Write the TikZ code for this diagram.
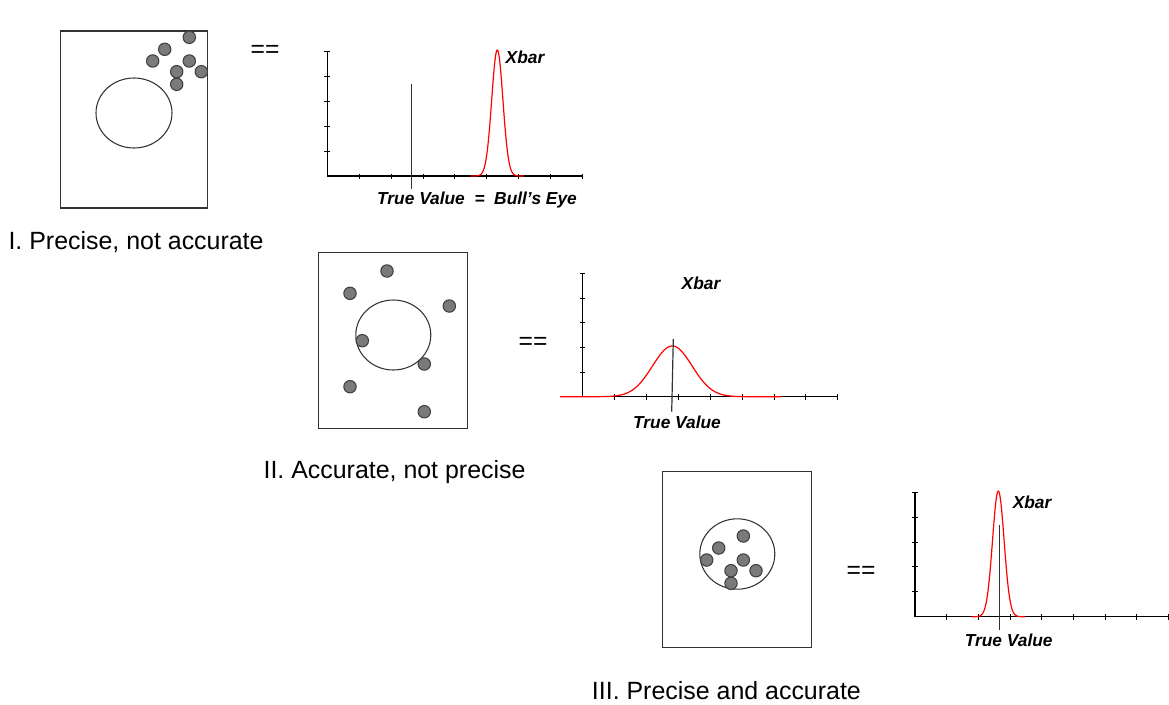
\documentclass[tikz,border=0pt]{standalone}
\usepackage{fontspec}
\setmainfont{Liberation Sans}

\begin{document}
\begin{tikzpicture}[
  x=0.75pt, y=-0.75pt,
  target/.style={draw=black!80, line width=0.9pt},
  ring/.style={draw=black!80, line width=0.8pt},
  shot/.style={draw=black!75, fill=black!52, line width=0.8pt},
  axis/.style={black, line width=1pt},
  tick/.style={black, line width=0.7pt},
  gauss/.style={red, line width=0.9pt},
  truth/.style={black!80, line width=0.9pt},
  caption/.style={font=\fontsize{18.7}{22}\selectfont, anchor=base west, inner sep=0pt},
  equal/.style={font=\fontsize{18.5}{21}\selectfont, inner sep=0pt},
  lbl/.style={font=\fontsize{13}{15}\selectfont\bfseries\itshape, inner sep=0pt}
]
\useasboundingbox (0,0) rectangle (1169,704);

% Target I: shots grouped, away from the bull's eye
\draw[target] (60.5,31) rectangle (207.5,208);
\draw[ring] (134,113) ellipse [x radius=38, y radius=35];
\foreach \p in {(189.3,37.3),(164.7,49.3),(152.7,61),(189.3,61),(176.7,71.7),(201.3,71.7),(176.7,84.3)}
  \filldraw[shot] \p circle (6.2);
\node[equal] (eqA) at (265,51) {==};
\node[caption] (capA) at (8.3,249.3) {I. Precise, not accurate};

% Chart I
\begin{scope}[shift={(327.3,176)}]
  \draw[axis] (0,-124.3) -- (0,0) -- (255.4,0);
  \foreach \i in {1,...,8} \draw[tick] (\i*31.9,-2.5) -- (\i*31.9,3);
  \foreach \i in {1,...,5} \draw[tick] (-3,-\i*24.86) -- (2.5,-\i*24.86);
  \draw[gauss] plot[domain=143.4:196.7, samples=120, smooth] (\x,{-126*exp(-((\x-170)^2)/(2*5.6^2))});
  \draw[truth] (84.4,-91.7) -- (84.4,13.3);
\end{scope}
\node[lbl] (xbarA) at (525,57) {Xbar};
\node[lbl] (trueA) at (477,200) {True Value~~=~~Bull{\char"27}s Eye};

% Target II: shots scattered round the bull's eye
\draw[target] (318.3,252.7) rectangle (467.3,428.3);
\draw[ring] (393.3,335) ellipse [x radius=37.5, y radius=35];
\foreach \p in {(387,271),(350,293.3),(449.3,306),(362.3,340.7),(424.3,364),(350,386.7),(424.3,411.7)}
  \filldraw[shot] \p circle (6.2);
\node[equal] (eqB) at (533,343) {==};
\node[caption] (capB) at (263.3,478.3) {II. Accurate, not precise};

% Chart II
\begin{scope}[shift={(582.7,396.7)}]
  \draw[axis] (0,-123.4) -- (0,0) -- (255,0);
  \foreach \i in {1,...,8} \draw[tick] (\i*31.88,-2.5) -- (\i*31.88,3);
  \foreach \i in {1,...,5} \draw[tick] (-3,-\i*24.68) -- (2.5,-\i*24.68);
  \draw[gauss] plot[domain=-22.7:199, samples=160, smooth] (\x,{-50.7*exp(-((\x-89.6)^2)/(2*19.8^2))});
  \draw[truth] (90.6,-57.7) -- (89,15);
\end{scope}
\node[lbl] (xbarB) at (701,283) {Xbar};
\node[lbl] (trueB) at (677,422) {True Value};

% Target III: shots grouped on the bull's eye
\draw[target] (662.7,471.7) rectangle (811.7,647.3);
\draw[ring] (737.3,554) ellipse [x radius=37.5, y radius=35.2];
\foreach \p in {(743.3,536),(718.7,548),(706.7,560),(743.3,560),(731,570.7),(756,570.7),(731,583.3)}
  \filldraw[shot] \p circle (6.2);
\node[equal] (eqC) at (861,572) {==};
\node[caption] (capC) at (591.7,699.3) {III. Precise and accurate};

% Chart III
\begin{scope}[shift={(915,616.7)}]
  \draw[axis] (0,-124.4) -- (0,0) -- (253.3,0);
  \foreach \i in {1,...,8} \draw[tick] (\i*31.66,-2.5) -- (\i*31.66,3);
  \foreach \i in {1,...,5} \draw[tick] (-3,-\i*24.88) -- (2.5,-\i*24.88);
  \draw[gauss] plot[domain=56.7:110, samples=120, smooth] (\x,{-125.7*exp(-((\x-83.3)^2)/(2*5.8^2))});
  \draw[truth] (84.3,-91.7) -- (84.3,13.3);
\end{scope}
\node[lbl] (xbarC) at (1032,502) {Xbar};
\node[lbl] (trueC) at (1008.7,640) {True Value};

\end{tikzpicture}
\end{document}
